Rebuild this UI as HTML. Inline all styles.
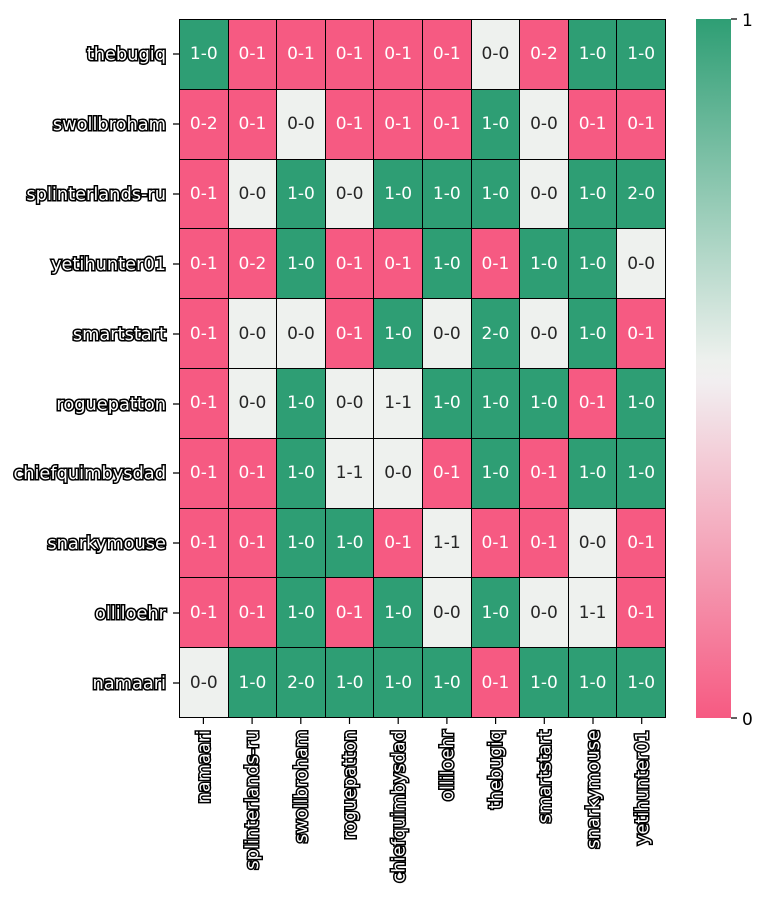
<!DOCTYPE html>
<html><head><meta charset="utf-8"><style>
body{margin:0;width:768px;height:898px;background:#fff;overflow:hidden;position:relative;font-family:"DejaVu Sans","Liberation Sans",sans-serif}
#g{position:absolute;left:179px;top:19px;width:487px;height:699px;display:grid;grid-template-columns:repeat(10,1fr);grid-template-rows:repeat(10,1fr);border-right:1px solid #000;border-bottom:1px solid #000;box-sizing:border-box}
#g div{display:flex;align-items:center;justify-content:center;font-size:17px;color:#fff;border-left:1px solid #000;border-top:1px solid #000}
.G{background:#2e9e74}.P{background:#f65a82}.D{background:#eef1ee;color:#262626!important}
#cb{position:absolute;left:696px;top:19px;width:35px;height:699px;background:linear-gradient(#2e9e74,#eef1ee 49%,#f2eef0 52%,#f65a82)}
svg{position:absolute;left:0;top:0}
.l{font-size:17.8px;fill:#fff;stroke:#000;stroke-width:3px;paint-order:stroke;font-family:"DejaVu Sans","Liberation Sans",sans-serif}
</style></head><body>
<div id="g">
<div class="G">1-0</div><div class="P">0-1</div><div class="P">0-1</div><div class="P">0-1</div><div class="P">0-1</div><div class="P">0-1</div><div class="D">0-0</div><div class="P">0-2</div><div class="G">1-0</div><div class="G">1-0</div>
<div class="P">0-2</div><div class="P">0-1</div><div class="D">0-0</div><div class="P">0-1</div><div class="P">0-1</div><div class="P">0-1</div><div class="G">1-0</div><div class="D">0-0</div><div class="P">0-1</div><div class="P">0-1</div>
<div class="P">0-1</div><div class="D">0-0</div><div class="G">1-0</div><div class="D">0-0</div><div class="G">1-0</div><div class="G">1-0</div><div class="G">1-0</div><div class="D">0-0</div><div class="G">1-0</div><div class="G">2-0</div>
<div class="P">0-1</div><div class="P">0-2</div><div class="G">1-0</div><div class="P">0-1</div><div class="P">0-1</div><div class="G">1-0</div><div class="P">0-1</div><div class="G">1-0</div><div class="G">1-0</div><div class="D">0-0</div>
<div class="P">0-1</div><div class="D">0-0</div><div class="D">0-0</div><div class="P">0-1</div><div class="G">1-0</div><div class="D">0-0</div><div class="G">2-0</div><div class="D">0-0</div><div class="G">1-0</div><div class="P">0-1</div>
<div class="P">0-1</div><div class="D">0-0</div><div class="G">1-0</div><div class="D">0-0</div><div class="D">1-1</div><div class="G">1-0</div><div class="G">1-0</div><div class="G">1-0</div><div class="P">0-1</div><div class="G">1-0</div>
<div class="P">0-1</div><div class="P">0-1</div><div class="G">1-0</div><div class="D">1-1</div><div class="D">0-0</div><div class="P">0-1</div><div class="G">1-0</div><div class="P">0-1</div><div class="G">1-0</div><div class="G">1-0</div>
<div class="P">0-1</div><div class="P">0-1</div><div class="G">1-0</div><div class="G">1-0</div><div class="P">0-1</div><div class="D">1-1</div><div class="P">0-1</div><div class="P">0-1</div><div class="D">0-0</div><div class="P">0-1</div>
<div class="P">0-1</div><div class="P">0-1</div><div class="G">1-0</div><div class="P">0-1</div><div class="G">1-0</div><div class="D">0-0</div><div class="G">1-0</div><div class="D">0-0</div><div class="D">1-1</div><div class="P">0-1</div>
<div class="D">0-0</div><div class="G">1-0</div><div class="G">2-0</div><div class="G">1-0</div><div class="G">1-0</div><div class="G">1-0</div><div class="P">0-1</div><div class="G">1-0</div><div class="G">1-0</div><div class="G">1-0</div>
</div>
<div id="cb"></div>
<svg width="768" height="898">
<g stroke="#000" stroke-width="1.2">
<path d="M173 54h6M173 124h6M173 194h6M173 264h6M173 334h6M173 404h6M173 473h6M173 543h6M173 613h6M173 683h6"/>
<path d="M203.4 718v6M252.1 718v6M300.8 718v6M349.5 718v6M398.2 718v6M446.9 718v6M495.6 718v6M544.3 718v6M593 718v6M641.7 718v6"/>
<path d="M731 19h6M731 718h6"/>
</g>
<g class="l" text-anchor="end">
<text x="166" y="60">thebugiq</text>
<text x="166" y="130">swollbroham</text>
<text x="166" y="200">splinterlands-ru</text>
<text x="166" y="270">yetihunter01</text>
<text x="166" y="340">smartstart</text>
<text x="166" y="410">roguepatton</text>
<text x="166" y="479">chiefquimbysdad</text>
<text x="166" y="549">snarkymouse</text>
<text x="166" y="619">olliloehr</text>
<text x="166" y="689">namaari</text>
<text transform="translate(209.5,730) rotate(-90)">namaari</text>
<text transform="translate(258.2,730) rotate(-90)">splinterlands-ru</text>
<text transform="translate(306.9,730) rotate(-90)">swollbroham</text>
<text transform="translate(355.6,730) rotate(-90)">roguepatton</text>
<text transform="translate(404.3,730) rotate(-90)">chiefquimbysdad</text>
<text transform="translate(453,730) rotate(-90)">olliloehr</text>
<text transform="translate(501.7,730) rotate(-90)">thebugiq</text>
<text transform="translate(550.4,730) rotate(-90)">smartstart</text>
<text transform="translate(599.1,730) rotate(-90)">snarkymouse</text>
<text transform="translate(647.8,730) rotate(-90)">yetihunter01</text>
</g>
<text x="742" y="26" font-size="17" fill="#000">1</text>
<text x="742" y="725" font-size="17" fill="#000">0</text>
</svg>
</body></html>
